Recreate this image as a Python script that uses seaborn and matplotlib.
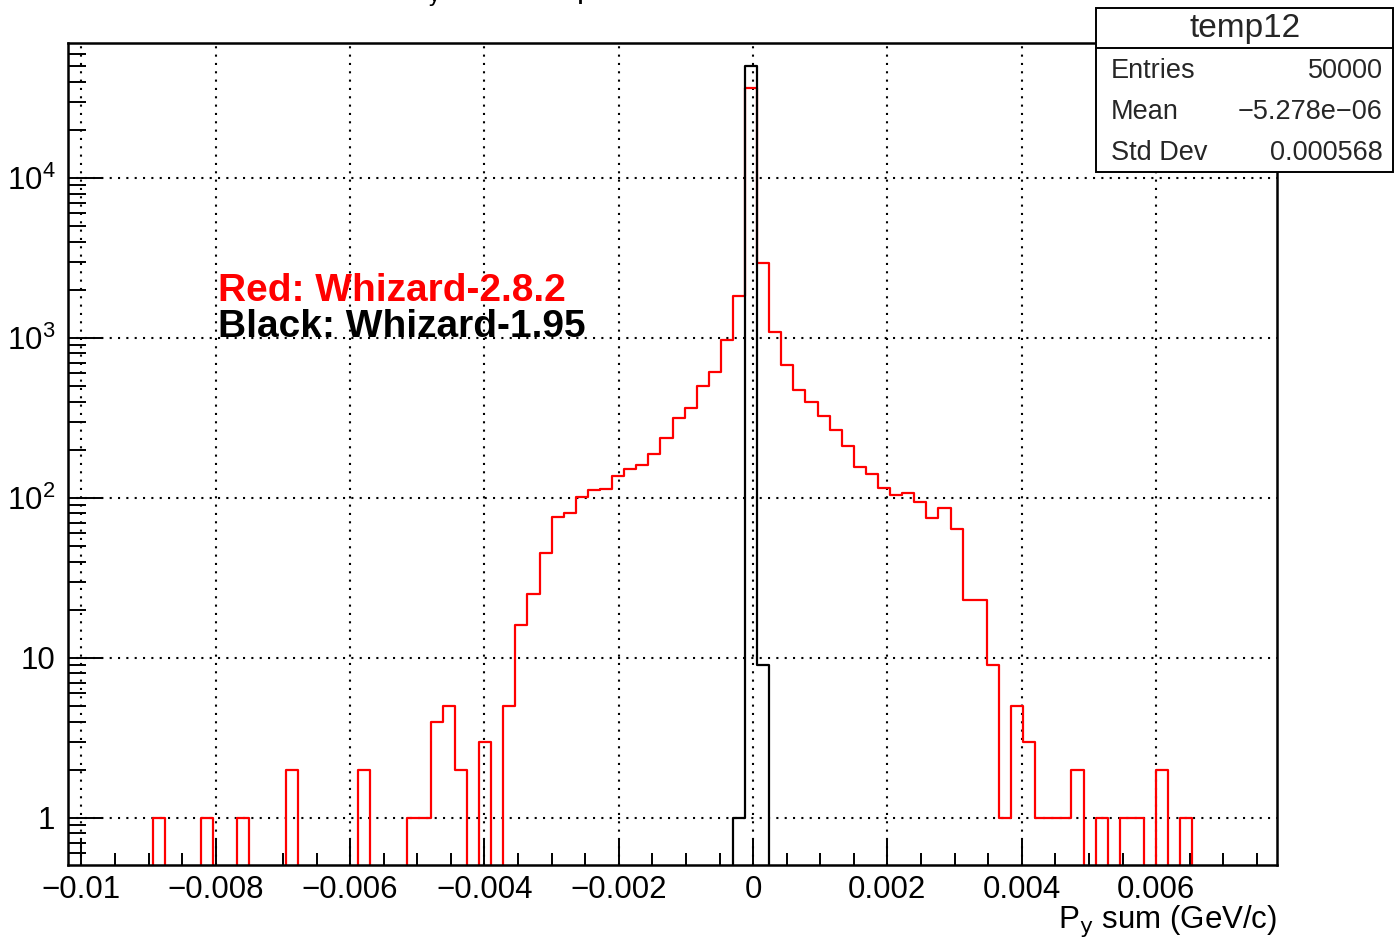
import numpy as np
import pandas as pd
import matplotlib
matplotlib.use("Agg")
import matplotlib.pyplot as plt
import seaborn as sns
from matplotlib.patches import Rectangle
from matplotlib.lines import Line2D
from matplotlib.ticker import FixedLocator, MultipleLocator, LogLocator, NullFormatter

# ---------------- data ----------------
bin_lo, bin_hi, n_bins = -0.0102, 0.0078, 100

red_counts = [
    0, 0, 0, 0, 0, 0, 0, 1, 0, 0,
    0, 1, 0, 0, 1, 0, 0, 0, 2, 0,
    0, 0, 0, 0, 2, 0, 0, 0, 1, 1,
    4, 5, 2, 0, 3, 0, 5, 16, 25, 45,
    76, 80, 101, 112, 114, 137, 152, 161, 188, 238,
    318, 364, 504, 615, 972, 1838, 36523, 2930, 1095, 675,
    473, 396, 324, 267, 212, 157, 141, 116, 105, 108,
    94, 75, 86, 64, 23, 23, 9, 1, 5, 3,
    1, 1, 1, 2, 0, 1, 0, 1, 1, 0,
    2, 0, 1, 0, 0, 0, 0, 0, 0, 0,
]
black_counts = [0] * 55 + [1, 49990, 9] + [0] * 42

x_ticks = [-0.01, -0.008, -0.006, -0.004, -0.002, 0.0, 0.002, 0.004, 0.006]
x_tick_labels = ["\u22120.01", "\u22120.008", "\u22120.006", "\u22120.004", "\u22120.002",
                 "0", "0.002", "0.004", "0.006"]
y_ticks = [1, 10, 100, 1000, 10000]
y_tick_labels = ["1", "10", "$10^{2}$", "$10^{3}$", "$10^{4}$"]

stats_title = "temp12"
stats_names = ["Entries", "Mean", "Std Dev"]
stats_values = ["50000", "\u22125.278e\u221206", "0.000568"]

legend_lines = ["Red: Whizard-2.8.2", "Black: Whizard-1.95"]
x_label = "P$_{\\mathrm{y}}$ sum (GeV/c)"
title_text = "P$_{\\mathrm{y}}$ sum comparison"

edges = np.linspace(bin_lo, bin_hi, n_bins + 1)
centers = 0.5 * (edges[:-1] + edges[1:])
red_df = pd.DataFrame({"x": centers, "w": red_counts})
black_df = pd.DataFrame({"x": centers, "w": black_counts})

# ---------------- style ----------------
sns.set_style("ticks")
plt.rcParams["font.family"] = ["Liberation Sans", "DejaVu Sans"]
plt.rcParams["mathtext.default"] = "regular"
plt.rcParams["axes.unicode_minus"] = True

W, H = 1395, 942
fig = plt.figure(figsize=(W / 100, H / 100), dpi=100)
fig.patch.set_facecolor("white")


def fx(x):
    return x / W


def fy(y):
    return 1 - y / H


ax = fig.add_axes([fx(68), fy(865), (1277 - 68) / W, (865 - 43) / H])
ax.set_facecolor("white")

sns.histplot(data=red_df, x="x", weights="w", bins=list(edges), element="step", fill=False,
             color="#ff0000", linewidth=1.6, ax=ax)
sns.histplot(data=black_df, x="x", weights="w", bins=list(edges), element="step", fill=False,
             color="black", linewidth=1.6, ax=ax)

ax.set_yscale("log")
ax.set_xlim(bin_lo, bin_hi)
ax.set_ylim(0.508, 69800)

# ticks
ax.xaxis.set_major_locator(FixedLocator(x_ticks))
ax.set_xticklabels(x_tick_labels)
ax.xaxis.set_minor_locator(MultipleLocator(0.0005))
ax.yaxis.set_major_locator(FixedLocator(y_ticks))
ax.set_yticklabels(y_tick_labels)
ax.yaxis.set_minor_locator(LogLocator(base=10, subs=np.arange(2, 10), numticks=50))
ax.yaxis.set_minor_formatter(NullFormatter())

ax.tick_params(axis="both", which="both", direction="in", top=False, right=False,
               color="black", width=1.4, labelsize=22.5, labelcolor="black")
ax.tick_params(axis="x", which="major", length=18, pad=7)
ax.tick_params(axis="x", which="minor", length=8.6)
ax.tick_params(axis="y", which="major", length=25, pad=9)
ax.tick_params(axis="y", which="minor", length=13)

for s in ax.spines.values():
    s.set_visible(True)
    s.set_color("black")
    s.set_linewidth(1.8)

ax.grid(True, which="major", color="black", linestyle=(0, (1, 3)), linewidth=1.5)
ax.grid(False, which="minor")
ax.set_axisbelow(True)
ax.set_xlabel("")
ax.set_ylabel("")

# x label (right aligned under axis)
fig.text(fx(1277), fy(928), x_label, ha="right", va="baseline", fontsize=22.5, color="black")

# legend-like annotations
fig.text(fx(218), fy(301), legend_lines[0], ha="left", va="baseline", fontsize=28,
         fontweight="bold", color="#ff0000", zorder=5)
fig.text(fx(218), fy(337), legend_lines[1], ha="left", va="baseline", fontsize=28,
         fontweight="bold", color="black", zorder=5)

# title, clipped at the top edge as in the original canvas
fig.text(fx(406), fy(-3), title_text, ha="left", va="baseline", fontsize=22.5, color="black")

# stats box
box = Rectangle((fx(1096), fy(172)), (1393 - 1096) / W, (172 - 8) / H,
                transform=fig.transFigure, facecolor="white", edgecolor="black",
                linewidth=1.4, zorder=10)
fig.add_artist(box)
fig.add_artist(Line2D([fx(1096), fx(1393)], [fy(48), fy(48)], transform=fig.transFigure,
                      color="black", linewidth=1.4, zorder=11))
fig.text(fx(1245), fy(29), stats_title, ha="center", va="center", fontsize=24, zorder=12)
row_y = [71, 112, 153]
for name, val, yy in zip(stats_names, stats_values, row_y):
    fig.text(fx(1111), fy(yy), name, ha="left", va="center", fontsize=19.5, zorder=12)
    fig.text(fx(1383), fy(yy), val, ha="right", va="center", fontsize=19.5, zorder=12)

fig.savefig("out.png", dpi=100, facecolor="white")
